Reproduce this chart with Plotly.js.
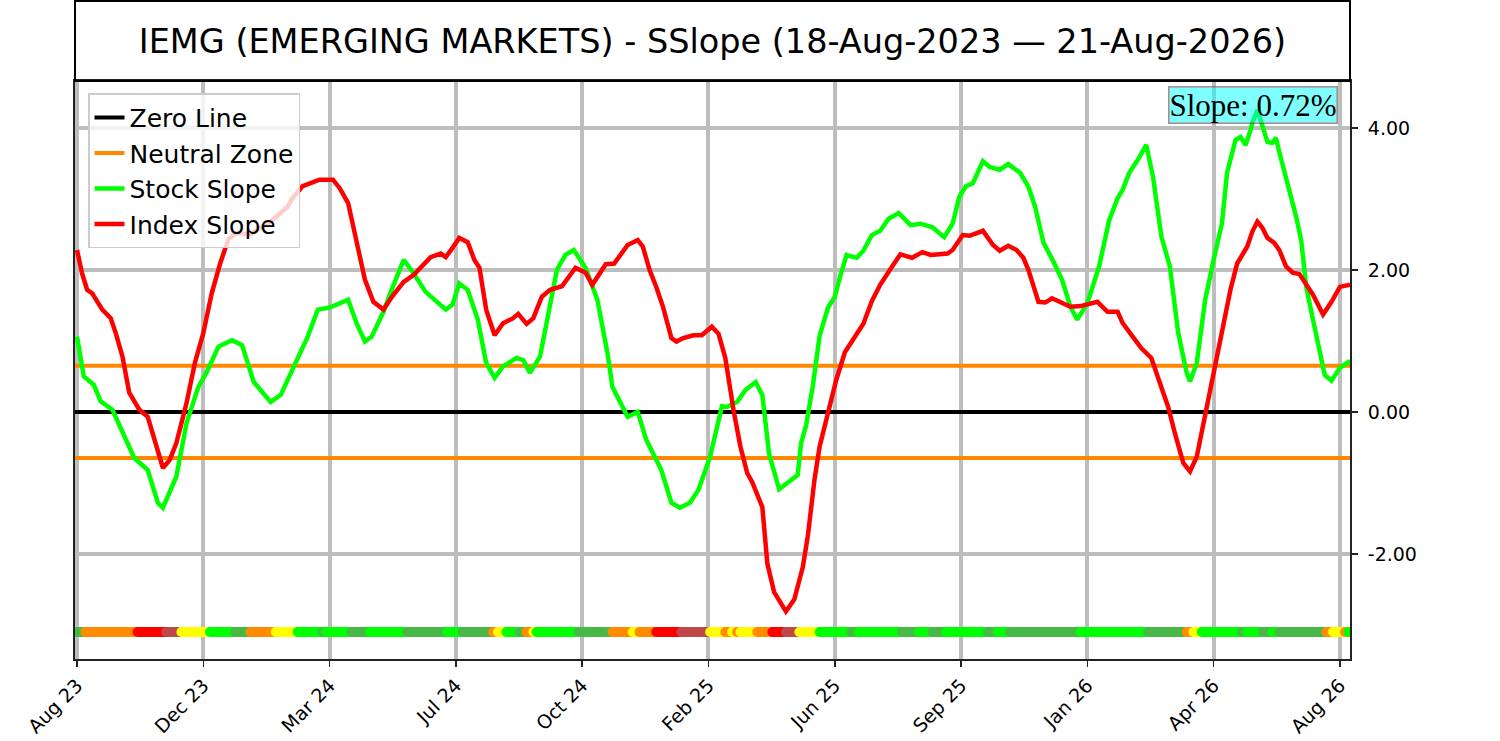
<!DOCTYPE html>
<html>
<head>
<meta charset="utf-8">
<script src="https://cdn.plot.ly/plotly-3.0.1.min.js"></script>
<style>
    html, body { margin: 0; padding: 0; background: #fff; }
    #plot { width: 1500px; height: 741px; }
</style>
</head>
<body>
<div id="plot"></div>
<script>
// x axis is the trading-day index (0 = 18-Aug-2023)
const tickDays = [0, 75, 150, 225, 300, 375, 450, 525, 600, 675, 750];
const tickLabels = ["Aug 23", "Dec 23", "Mar 24", "Jul 24", "Oct 24", "Feb 25",
    "Jun 25", "Sep 25", "Jan 26", "Apr 26", "Aug 26"];
const dayRange = [-1.2, 756];

const slopeTicks = [-2, 0, 2, 4];
const slopeTickLabels = ["-2.00", "0.00", "2.00", "4.00"];

const zeroLevel = 0;
const neutralBand = 0.65;
const statusLevel = -3.1;
const lastSlope = 0.72;

const stockDays = [0,4,10,14,21,27,34,42,48,51,59,65,72,77,84,92,98,105,115,121,
    131,137,143,150,161,166,171,175,182,186,194,200,207,211,219,223,227,232,238,243,
    248,253,261,265,269,275,280,285,290,295,302,309,315,318,327,333,338,347,353,358,
    364,369,376,383,386,392,397,403,407,411,417,422,428,430,433,437,441,446,450,453,
    457,463,467,472,477,482,488,495,501,508,515,520,524,528,532,538,542,548,553,560,
    565,569,574,580,585,590,594,600,607,613,618,621,625,630,635,639,644,649,654,659,
    661,665,670,675,680,683,688,691,694,697,698,701,704,707,710,712,714,719,724,727,
    730,734,738,741,745,750,756];
const stockSlope = [1.06,0.50,0.38,0.15,0.03,-0.30,-0.65,-0.82,-1.28,-1.35,
    -0.91,-0.16,0.35,0.56,0.92,1.01,0.94,0.42,0.14,0.24,
    0.73,1.06,1.44,1.47,1.58,1.25,0.99,1.06,1.41,1.67,
    2.14,1.95,1.69,1.60,1.44,1.51,1.81,1.72,1.30,0.69,
    0.48,0.64,0.76,0.73,0.55,0.78,1.39,2.00,2.21,2.28,
    2.03,1.58,0.83,0.35,-0.07,0.00,-0.39,-0.82,-1.28,-1.35,
    -1.28,-1.10,-0.63,0.08,0.07,0.14,0.31,0.42,0.24,-0.59,
    -1.09,-0.99,-0.89,-0.44,-0.19,0.37,1.07,1.47,1.62,1.89,
    2.21,2.17,2.27,2.49,2.55,2.72,2.80,2.63,2.65,2.60,
    2.46,2.65,3.03,3.18,3.22,3.53,3.45,3.41,3.49,3.37,
    3.17,2.89,2.38,2.11,1.86,1.48,1.30,1.53,2.05,2.70,
    3.01,3.13,3.37,3.55,3.76,3.31,2.47,2.05,1.11,0.55,
    0.43,0.69,1.58,2.14,2.66,3.37,3.83,3.87,3.76,3.97,
    4.07,4.25,4.01,3.80,3.79,3.86,3.66,3.22,2.75,2.42,
    1.76,1.30,0.83,0.52,0.44,0.62,0.72];

const indexDays = [0,3,6,9,15,20,23,27,31,37,42,46,51,55,59,65,70,75,80,85,
    90,95,103,109,116,125,128,134,140,144,152,156,161,166,171,176,182,187,194,200,
    210,216,219,223,227,232,236,239,243,248,253,259,262,267,271,276,281,288,291,296,
    302,306,314,319,327,333,336,340,344,348,353,356,360,366,371,377,381,385,390,394,
    398,401,407,410,414,421,426,431,434,438,441,446,451,456,462,467,472,477,483,489,
    496,502,507,517,520,526,530,538,544,548,553,558,562,565,571,575,579,584,590,596,
    602,606,612,618,621,627,632,638,643,648,652,657,661,665,669,674,680,685,689,695,
    698,701,704,707,711,714,718,722,726,730,734,740,745,750,756];
const indexSlope = [2.28,1.95,1.72,1.67,1.44,1.32,1.11,0.78,0.27,0.03,
    -0.07,-0.39,-0.79,-0.68,-0.44,0.12,0.69,1.11,1.67,2.09,
    2.44,2.52,2.50,2.59,2.70,2.89,3.01,3.18,3.23,3.27,
    3.27,3.15,2.94,2.42,1.86,1.55,1.44,1.62,1.83,1.93,
    2.18,2.23,2.18,2.31,2.45,2.39,2.14,2.03,1.44,1.08,
    1.25,1.32,1.38,1.24,1.32,1.62,1.72,1.77,1.86,2.03,
    1.96,1.79,2.08,2.09,2.35,2.42,2.33,2.00,1.76,1.48,
    1.04,0.99,1.04,1.08,1.08,1.20,1.10,0.76,0.01,-0.49,
    -0.86,-0.99,-1.34,-2.14,-2.54,-2.81,-2.64,-2.19,-1.75,-0.95,
    -0.49,0.01,0.46,0.84,1.07,1.24,1.56,1.79,2.01,2.22,
    2.17,2.25,2.21,2.23,2.28,2.49,2.48,2.55,2.35,2.27,
    2.34,2.28,2.17,2.00,1.55,1.54,1.60,1.54,1.48,1.49,
    1.53,1.55,1.41,1.41,1.25,1.06,0.90,0.76,0.41,0.07,
    -0.30,-0.72,-0.84,-0.63,-0.16,0.45,1.11,1.72,2.09,2.33,
    2.54,2.68,2.59,2.45,2.38,2.28,2.05,1.96,1.94,1.79,
    1.65,1.37,1.55,1.76,1.79];

// status strip along the bottom: first day of each run and its state
const statusStart = [0,5,36,53,62,79,94,103,118,131,146,148,163,174,196,220,229,247,250,255,
    263,267,271,273,298,318,330,334,344,359,376,385,389,392,394,404,413,421,429,441,
    460,464,490,500,508,516,541,547,554,596,636,659,663,668,692,695,704,710,714,742,
    746,753,755];
const statusState = ["dk","or","rd","br","ye","gr","dk","or","ye","gr","dk","gr","dk","gr","dk","gr","dk","or","ye","gr",
    "dk","or","ye","gr","dk","or","ye","or","rd","br","ye","or","ye","or","ye","or","rd","br","ye","gr",
    "dk","gr","dk","gr","dk","gr","dk","gr","dk","gr","dk","or","ye","gr","dk","gr","dk","gr","dk","or",
    "ye","or","gr"];
const lastDay = 756;

const stateColors = {
    gr: "#00ff00",
    dk: "#48b848",
    or: "#ff8c00",
    ye: "#ffff00",
    rd: "#ff0000",
    br: "#c04848"
};

const statusX = [];
const statusColor = [];
for (let s = 0; s < statusStart.length; s++) {
    const end = s + 1 < statusStart.length ? statusStart[s + 1] : lastDay + 1;
    for (let d = statusStart[s]; d < end; d++) {
        statusX.push(d);
        statusColor.push(stateColors[statusState[s]]);
    }
}

const font = "DejaVu Sans, Arial, sans-serif";

const traces = [
    {
        x: dayRange,
        y: [zeroLevel, zeroLevel],
        mode: "lines",
        name: "Zero Line",
        line: { color: "#000000", width: 4 }
    },
    {
        x: [dayRange[0], dayRange[1], null, dayRange[0], dayRange[1]],
        y: [neutralBand, neutralBand, null, -neutralBand, -neutralBand],
        mode: "lines",
        name: "Neutral Zone",
        line: { color: "#ff8800", width: 4 }
    },
    {
        x: stockDays,
        y: stockSlope,
        mode: "lines",
        name: "Stock Slope",
        line: { color: "#00ff00", width: 4.5 }
    },
    {
        x: indexDays,
        y: indexSlope,
        mode: "lines",
        name: "Index Slope",
        line: { color: "#ff0000", width: 4.5 }
    },
    {
        x: statusX,
        y: statusX.map(() => statusLevel),
        mode: "markers",
        showlegend: false,
        hoverinfo: "skip",
        marker: { color: statusColor, size: 10, line: { width: 0 } }
    }
];

const layout = {
    width: 1500,
    height: 741,
    margin: { l: 75, r: 150, t: 81, b: 82 },
    paper_bgcolor: "#ffffff",
    plot_bgcolor: "#ffffff",
    font: { family: font, color: "#000000" },
    title: {
        text: "IEMG (EMERGING MARKETS) - SSlope (18-Aug-2023 — 21-Aug-2026)",
        font: { family: font, size: 33.5, color: "#000000" },
        x: 0.5,
        xref: "paper",
        xanchor: "center",
        y: 1 - 41 / 741,
        yref: "container",
        yanchor: "middle"
    },
    xaxis: {
        range: dayRange,
        tickmode: "array",
        tickvals: tickDays,
        ticktext: tickLabels,
        tickangle: -45,
        tickfont: { family: font, size: 19 },
        ticks: "outside",
        ticklen: 6,
        tickwidth: 1.5,
        tickcolor: "#222",
        showgrid: true,
        gridcolor: "#bdbdbd",
        gridwidth: 4,
        zeroline: false,
        showline: true,
        linecolor: "#222",
        linewidth: 2,
        mirror: true
    },
    yaxis: {
        range: [-3.48, 4.66],
        side: "right",
        tickmode: "array",
        tickvals: slopeTicks,
        ticktext: slopeTickLabels,
        tickfont: { family: font, size: 19 },
        ticks: "outside",
        ticklen: 6,
        tickwidth: 1.5,
        tickcolor: "#222",
        ticklabelstandoff: 6,
        showgrid: true,
        gridcolor: "#bdbdbd",
        gridwidth: 4,
        zeroline: false,
        showline: true,
        linecolor: "#222",
        linewidth: 2,
        mirror: true
    },
    legend: {
        x: 0.0102,
        y: 0.979,
        xanchor: "left",
        yanchor: "top",
        bgcolor: "rgba(255,255,255,0.8)",
        bordercolor: "#cccccc",
        borderwidth: 1.5,
        font: { family: font, size: 25, color: "#000000" },
        itemwidth: 30,
        tracegroupgap: 0
    },
    shapes: [
        {
            type: "rect",
            xref: "paper",
            yref: "paper",
            x0: 0,
            x1: 1,
            y0: 1,
            y1: 1 + 80 / 578,
            line: { color: "#000000", width: 2 },
            fillcolor: "rgba(0,0,0,0)"
        }
    ],
    annotations: [
        {
            text: "Slope: " + lastSlope.toFixed(2) + "%",
            xref: "paper",
            yref: "paper",
            x: 0.9906,
            y: 0.991,
            xanchor: "right",
            yanchor: "top",
            showarrow: false,
            font: { family: "Liberation Serif, Times New Roman, serif", size: 31, color: "#000000" },
            bgcolor: "rgba(0,255,255,0.5)",
            bordercolor: "rgba(150,40,40,0.55)",
            borderwidth: 1.5,
            borderpad: 0
        }
    ]
};

Plotly.newPlot("plot", traces, layout, { displayModeBar: false, staticPlot: true });
</script>
</body>
</html>
